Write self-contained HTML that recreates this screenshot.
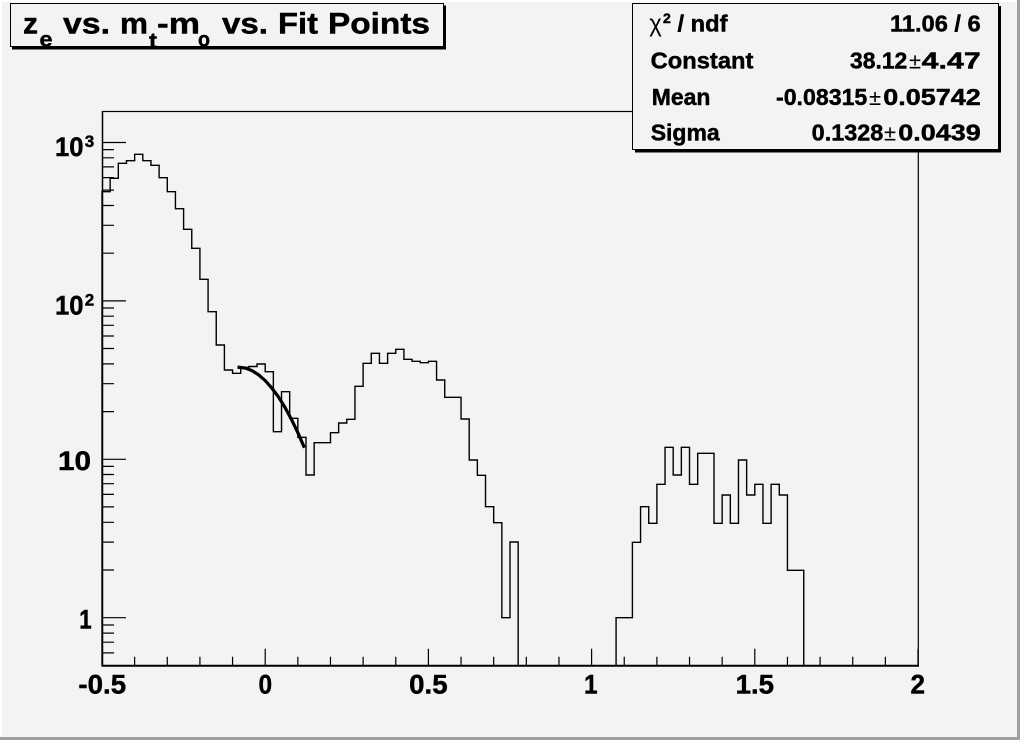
<!DOCTYPE html>
<html>
<head>
<meta charset="utf-8">
<style>
html,body{margin:0;padding:0;background:#f3f3f3;overflow:hidden}
svg{display:block}
text{font-family:"Liberation Sans",Arial,sans-serif;fill:#000}
.b{font-weight:bold;stroke:#000;stroke-width:0.45}
</style>
</head>
<body>
<svg width="1020" height="740" viewBox="0 0 1020 740" xmlns="http://www.w3.org/2000/svg">
  <!-- canvas background and bevel -->
  <rect x="0" y="0" width="1020" height="740" fill="#f3f3f3"/>
  <rect x="0" y="0" width="1020" height="2" fill="#ffffff"/>
  <rect x="0" y="0" width="2" height="740" fill="#ffffff"/>
  <rect x="0" y="737" width="1020" height="3" fill="#a0a0a0"/>
  <rect x="1017" y="0" width="3" height="740" fill="#a0a0a0"/>

  <!-- frame -->
  <rect x="102.5" y="111.5" width="815.8" height="554.2" fill="none" stroke="#000" stroke-width="1.2"/>

  <!-- histogram -->
  <path fill="none" stroke="#000" stroke-width="1.4" stroke-linejoin="miter" d="M102,665.7 V191.7 H110.16 V178.3 H118.32 V163.3 H126.48 V160.7 H134.64 V154.3 H142.8 V160.7 H150.96 V165.3 H159.12 V177.7 H167.28 V191.7 H175.44 V208.7 H183.6 V229.3 H191.76 V248.3 H199.92 V279.3 H208.08 V311.7 H216.24 V345 H224.4 V370 H232.56 V373.3 H240.72 V367.5 H248.88 V366.5 H257.04 V364 H265.2 V371.7 H273.36 V431.7 H281.52 V391.7 H289.68 V418.3 H297.84 V437.3 H306 V475 H314.16 V442.7 H330.48 V432.7 H338.64 V423 H346.8 V419.3 H354.96 V386.3 H363.12 V363.3 H371.28 V353.3 H379.44 V363.3 H387.6 V353.3 H395.76 V349.3 H403.92 V359.3 H412.08 V361.3 H420.24 V362.7 H428.4 V361.3 H436.56 V380 H444.72 V397.3 H461.04 V419 H469.2 V460 H477.36 V475.3 H485.52 V506.7 H493.68 V522.7 H501.84 V617.7 H510 V542 H518.16 V665.7 H616.08 V617.7 H632.4 V542.3 H640.56 V506.7 H648.72 V523.3 H656.88 V484.3 H665.04 V447.3 H673.2 V475 H681.36 V447.3 H689.52 V484.3 H697.68 V453.3 H714 V523.3 H722.16 V495 H730.32 V523.3 H738.48 V460 H746.64 V495 H754.8 V484.3 H762.96 V523.3 H771.12 V484.3 H779.28 V495 H787.44 V570.3 H803.76 V665.7"/>

  <!-- fit curve -->
  <polyline fill="none" stroke="#000" stroke-width="3.2" stroke-linecap="butt" points="237.5,367.1 245.6,368.1 252.1,370.7 258.7,374.9 265.2,380.6 271.7,387.9 278.3,396.7 284.8,407.1 291.3,419.1 297.8,432.6 304.4,447.7"/>

  <!-- x axis -->
  <line x1="101.5" y1="665.7" x2="919" y2="665.7" stroke="#000" stroke-width="2"/>
  <path stroke="#000" stroke-width="1.2" fill="none" d="
    M134.64,665 V656.7 M167.28,665 V656.7 M199.92,665 V656.7 M232.56,665 V656.7
    M265.2,665 V648.7
    M297.84,665 V656.7 M330.48,665 V656.7 M363.12,665 V656.7 M395.76,665 V656.7
    M428.4,665 V648.7
    M461.04,665 V656.7 M493.68,665 V656.7 M526.32,665 V656.7 M558.96,665 V656.7
    M591.6,665 V648.7
    M624.24,665 V656.7 M656.88,665 V656.7 M689.52,665 V656.7 M722.16,665 V656.7
    M754.8,665 V648.7
    M787.44,665 V656.7 M820.08,665 V656.7 M852.72,665 V656.7 M885.36,665 V656.7
    M918,665 V648.7"/>

  <!-- y axis -->
  <line x1="102.5" y1="111" x2="102.5" y2="666" stroke="#000" stroke-width="1.4"/>
  <path stroke="#000" stroke-width="1.2" fill="none" d="
    M102,617.7 H126 M102,459.3 H126 M102,300.9 H126 M102,142.5 H126
    M102,625 H114 M102,633.1 H114 M102,642.2 H114 M102,652.9 H114
    M102,570 H114 M102,542.1 H114 M102,522.3 H114 M102,506.9 H114 M102,494.4 H114 M102,483.7 H114 M102,474.5 H114 M102,466.4 H114
    M102,411.6 H114 M102,383.7 H114 M102,363.9 H114 M102,348.5 H114 M102,336 H114 M102,325.3 H114 M102,316.2 H114 M102,308 H114
    M102,253.2 H114 M102,225.3 H114 M102,205.5 H114 M102,190.1 H114 M102,177.6 H114 M102,166.9 H114 M102,157.8 H114 M102,149.6 H114"/>

  <!-- x labels -->
  <text x="78.4" y="693.3" font-size="26.5" textLength="47.7" lengthAdjust="spacingAndGlyphs" class="b">-0.5</text>
  <text x="258.5" y="693.3" font-size="26.5" textLength="13.6" lengthAdjust="spacingAndGlyphs" class="b">0</text>
  <text x="409.2" y="693.3" font-size="26.5" textLength="38.4" lengthAdjust="spacingAndGlyphs" class="b">0.5</text>
  <text x="584" y="693.3" font-size="26.5" textLength="13.6" lengthAdjust="spacingAndGlyphs" class="b">1</text>
  <text x="735.6" y="693.3" font-size="26.5" textLength="38.4" lengthAdjust="spacingAndGlyphs" class="b">1.5</text>
  <text x="910.5" y="693.3" font-size="26.5" textLength="14.5" lengthAdjust="spacingAndGlyphs" class="b">2</text>

  <!-- y labels -->
  <text x="79.3" y="628.3" font-size="26.5" textLength="12.4" lengthAdjust="spacingAndGlyphs" class="b">1</text>
  <text x="58" y="469.8" font-size="26.5" textLength="33" lengthAdjust="spacingAndGlyphs" class="b">10</text>
  <text x="55" y="314.6" font-size="26.5" textLength="28.5" lengthAdjust="spacingAndGlyphs" class="b">10</text>
  <text x="84.8" y="305.5" font-size="17" class="b">2</text>
  <text x="55" y="156.2" font-size="26.5" textLength="28.5" lengthAdjust="spacingAndGlyphs" class="b">10</text>
  <text x="84.8" y="147" font-size="17" class="b">3</text>

  <!-- title box -->
  <rect x="12" y="5.5" width="434" height="44" fill="#000"/>
  <rect x="10.5" y="3.5" width="433" height="43" fill="#f3f3f3" stroke="#000" stroke-width="1"/>
  <g>
    <text x="23" y="33.5" font-size="30" textLength="15" lengthAdjust="spacingAndGlyphs" class="b">z</text>
    <text x="39.5" y="46.5" font-size="21" textLength="13" lengthAdjust="spacingAndGlyphs" class="b">e</text>
    <text x="63" y="33.5" font-size="30" textLength="47" lengthAdjust="spacingAndGlyphs" class="b">vs.</text>
    <text x="120" y="33.5" font-size="30" textLength="28" lengthAdjust="spacingAndGlyphs" class="b">m</text>
    <text x="149" y="48" font-size="21" textLength="8" lengthAdjust="spacingAndGlyphs" class="b">t</text>
    <text x="157" y="33.5" font-size="30" textLength="43" lengthAdjust="spacingAndGlyphs" class="b">-m</text>
    <text x="198" y="46.5" font-size="21" textLength="12" lengthAdjust="spacingAndGlyphs" class="b">o</text>
    <text x="222" y="33.5" font-size="30" textLength="46" lengthAdjust="spacingAndGlyphs" class="b">vs.</text>
    <text x="278" y="33.5" font-size="30" textLength="40" lengthAdjust="spacingAndGlyphs" class="b">Fit</text>
    <text x="328" y="33.5" font-size="30" textLength="102" lengthAdjust="spacingAndGlyphs" class="b">Points</text>
  </g>

  <!-- stats box -->
  <rect x="635" y="6" width="366" height="146.5" fill="#000"/>
  <rect x="632.5" y="3.5" width="366" height="146" fill="#f3f3f3" stroke="#000" stroke-width="1"/>
  <text x="649.3" y="31.7" font-size="24" textLength="12.5" lengthAdjust="spacingAndGlyphs">χ</text>
  <text x="663" y="23" font-size="14" class="b">2</text>
  <text x="677.5" y="31.7" font-size="23" textLength="50" lengthAdjust="spacingAndGlyphs" class="b">/ ndf</text>
  <text x="890" y="31.7" font-size="23" textLength="90.7" lengthAdjust="spacingAndGlyphs" class="b">11.06 / 6</text>

  <text x="650.7" y="68.3" font-size="23" textLength="102.7" lengthAdjust="spacingAndGlyphs" class="b">Constant</text>
  <text x="850" y="68.3" font-size="23" textLength="57.3" lengthAdjust="spacingAndGlyphs" class="b">38.12</text>
  <text x="915" y="68.3" font-size="22" text-anchor="middle">±</text>
  <text x="921.7" y="68.3" font-size="23" textLength="59" lengthAdjust="spacingAndGlyphs" class="b">4.47</text>

  <text x="651.7" y="105" font-size="23" class="b">Mean</text>
  <text x="776" y="105" font-size="23" textLength="91.3" lengthAdjust="spacingAndGlyphs" class="b">-0.08315</text>
  <text x="875" y="105" font-size="22" text-anchor="middle">±</text>
  <text x="883.3" y="105" font-size="23" textLength="97.4" lengthAdjust="spacingAndGlyphs" class="b">0.05742</text>

  <text x="650.7" y="140.7" font-size="23" class="b">Sigma</text>
  <text x="811.7" y="140.7" font-size="23" textLength="71.6" lengthAdjust="spacingAndGlyphs" class="b">0.1328</text>
  <text x="890" y="140.7" font-size="22" text-anchor="middle">±</text>
  <text x="898.3" y="140.7" font-size="23" textLength="82.4" lengthAdjust="spacingAndGlyphs" class="b">0.0439</text>
</svg>
</body>
</html>
